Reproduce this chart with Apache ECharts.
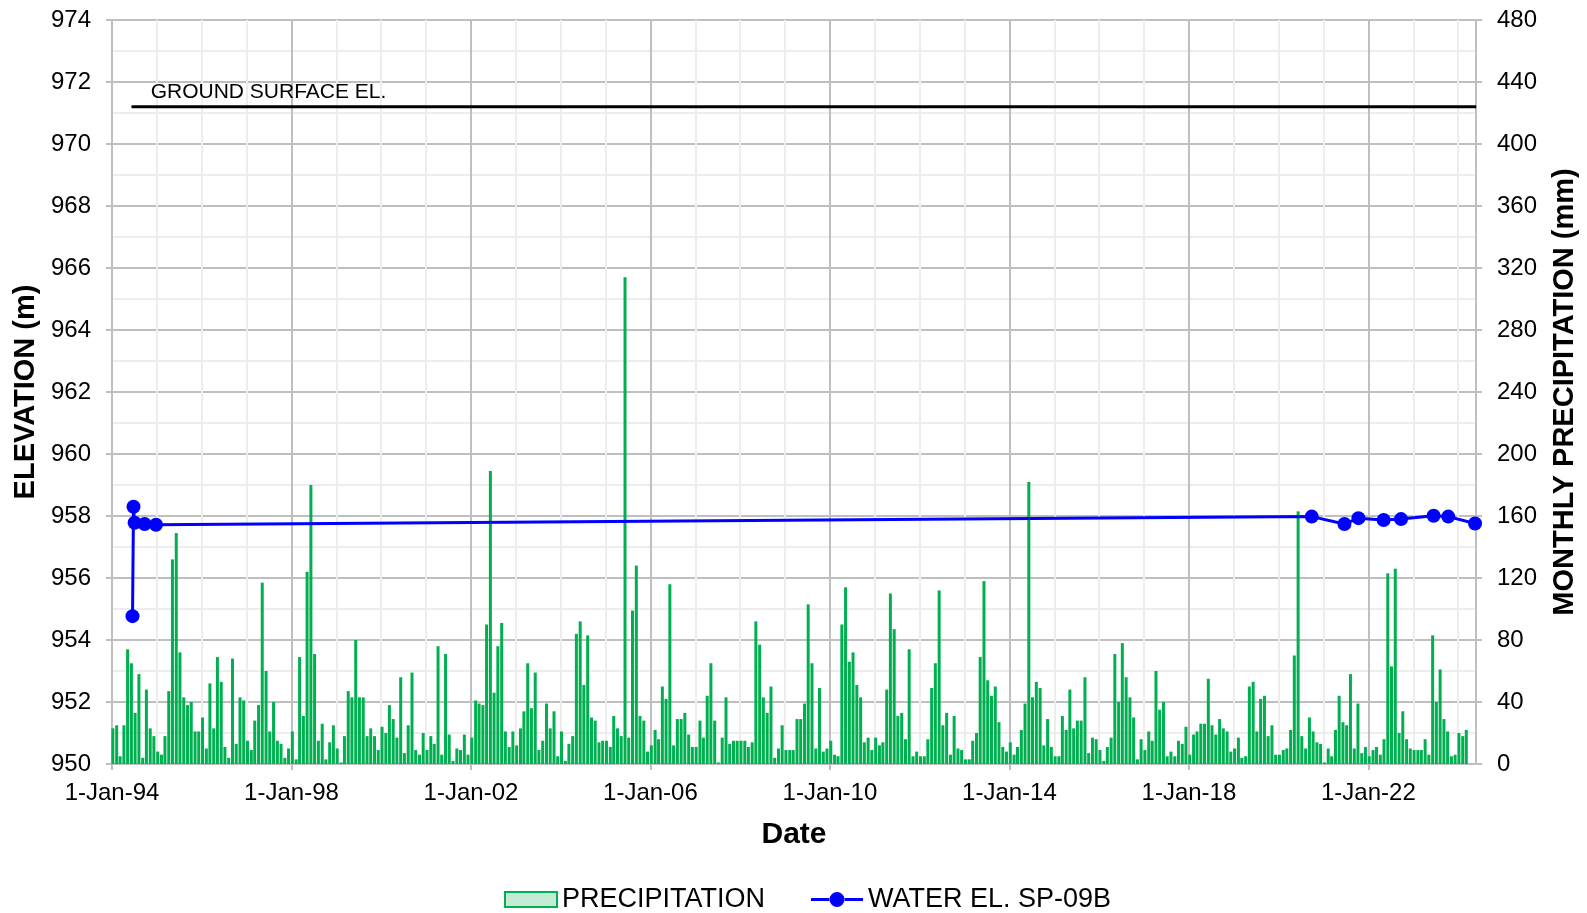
<!DOCTYPE html>
<html><head><meta charset="utf-8">
<script src="https://cdn.jsdelivr.net/npm/echarts@6/dist/echarts.min.js"></script>
<style>html,body{margin:0;padding:0;background:#fff}#c{width:1587px;height:913px}</style>
</head><body><div id="c"></div>
<script>
// Monthly precipitation (mm), Jan..Dec of each year
const p1994 = [23,25,5,25,74,65,33,58,4,48,23,18];
const p1995 = [8,6,18,47,132,149,72,43,38,40,21,21];
const p1996 = [30,10,52,23,69,53,11,4,68,13,43,41];
const p1997 = [15,9,28,38,117,60,21,40,15,13,4,10];
const p1998 = [21,3,69,31,124,180,71,15,26,3,14,25];
const p1999 = [10,1,18,47,43,80,43,43,18,23,18,9];
const p2000 = [24,20,38,29,17,56,7,25,59,9,6,20];
const p2001 = [9,18,13,76,6,71,19,2,10,9,19,6];
const p2002 = [17,41,39,38,90,189,46,76,91,21,11,21];
const p2003 = [12,23,34,65,36,59,9,15,39,23,34,5];
const p2004 = [21,2,13,18,84,92,51,83,30,28,14,15];
const p2005 = [15,11,31,23,18,314,17,99,128,31,28,8];
const p2006 = [12,22,16,50,42,116,12,29,29,33,19,11];
const p2007 = [11,28,17,44,65,28,1,17,43,13,15,15];
const p2008 = [15,15,11,14,92,77,43,33,50,4,10,25];
const p2009 = [9,9,9,29,29,39,103,65,10,49,8,10];
const p2010 = [15,6,5,90,114,66,72,51,43,14,17,9];
const p2011 = [17,12,14,48,110,87,31,33,16,74,5,8];
const p2012 = [5,5,16,49,65,112,25,33,6,31,10,9];
const p2013 = [3,3,15,20,69,118,54,44,50,27,11,8];
const p2014 = [14,6,11,22,39,182,43,53,49,12,29,11];
const p2015 = [5,5,31,22,48,23,28,28,56,7,17,16];
const p2016 = [9,2,11,17,71,40,78,56,43,30,3,16];
const p2017 = [9,21,15,60,35,40,5,8,5,15,13,24];
const p2018 = [6,19,21,26,26,55,25,19,29,23,21,8];
const p2019 = [10,17,4,5,50,53,21,42,44,18,25,6];
const p2020 = [6,9,10,22,70,163,18,10,30,21,14,13];
const p2021 = [1,10,5,22,44,27,25,58,10,39,7,11];
const p2022 = [5,9,11,6,16,123,63,126,20,34,16,10];
const p2023 = [9,9,9,16,6,83,40,61,29,21,5,6];
const p2024 = [20,18,22];
const precipYears = [1994,1995,1996,1997,1998,1999,2000,2001,2002,2003,2004,2005,2006,2007,2008,2009,2010,2011,2012,2013,2014,2015,2016,2017,2018,2019,2020,2021,2022,2023,2024];
const precipLists = [p1994,p1995,p1996,p1997,p1998,p1999,p2000,p2001,p2002,p2003,p2004,p2005,p2006,p2007,p2008,p2009,p2010,p2011,p2012,p2013,p2014,p2015,p2016,p2017,p2018,p2019,p2020,p2021,p2022,p2023,p2024];

// Water elevation readings, SP-09B
const waterDates = ['1994-06-17','1994-06-25','1994-07-04','1994-09-23','1994-12-25','2020-09-27','2021-06-20','2021-10-12','2022-05-05','2022-09-24','2023-06-16','2023-10-13','2024-05-18'];
const waterLevels = [954.77,958.30,957.78,957.74,957.72,957.98,957.74,957.93,957.87,957.90,958.01,957.98,957.76];

// Ground surface elevation
const groundDates = ['1994-06-10','2024-05-26'];
const groundLevel = 971.2;

// Axes
const xStart = '1994-01-01', xEnd = '2024-05-26';
const xTickDays = 1461; // 4 years
const elevMin = 950, elevMax = 974, elevStep = 2;
const precMin = 0, precMax = 480, precStep = 40;

const DAY = 86400000;
const T0 = Date.UTC(1994,0,1);
function dayNum(s){ const a = s.split('-').map(Number); return Math.round((Date.UTC(a[0],a[1]-1,a[2]) - T0)/DAY); }

const precipData = [];
precipYears.forEach((y, i) => {
  precipLists[i].forEach((v, m) => {
    precipData.push([Math.round((Date.UTC(y, m, 8) - T0)/DAY), v]);
  });
});
const waterData = waterDates.map((d, i) => [dayNum(d), waterLevels[i]]);
const groundData = groundDates.map(d => [dayNum(d), groundLevel]);

const FONT = "'Liberation Sans', Arial, sans-serif";
const LINE_ICON = 'path://M0,6L19,6L19,9L0,9Z M33,6L52,6L52,9L33,9Z M33.5,7.5A7.5,7.5,0,1,0,18.5,7.5A7.5,7.5,0,1,0,33.5,7.5Z';
const chart = echarts.init(document.getElementById('c'), null, {renderer:'canvas'});
chart.setOption({
  animation: false,
  backgroundColor: '#fff',
  textStyle: { fontFamily: FONT, color: '#000' },
  grid: { left: 112, right: 110, top: 20, bottom: 149, containLabel: false },
  legend: {
    left: 504, top: 886, padding: 0, itemWidth: 52, itemHeight: 15, itemGap: 46,
    textStyle: { fontFamily: FONT, fontSize: 27, color: '#000' },
    data: [
      { name: 'PRECIPITATION', icon: 'rect', itemStyle: { color: '#C3EBD3', borderColor: '#00B050', borderWidth: 2 } },
      { name: 'WATER EL. SP-09B', icon: LINE_ICON, itemStyle: { color: '#0000FF' } }
    ]
  },
  xAxis: {
    type: 'value', min: dayNum(xStart), max: dayNum(xEnd), interval: xTickDays,
    name: 'Date', nameLocation: 'middle', nameGap: 56,
    nameTextStyle: { fontFamily: FONT, fontSize: 30, fontWeight: 'bold', color: '#000' },
    axisLine: { show: true, lineStyle: { color: '#BFBFBF', width: 2 } },
    axisTick: { show: true, length: 6, lineStyle: { color: '#BFBFBF', width: 2 } },
    minorTick: { show: false, splitNumber: 4 },
    axisLabel: {
      fontFamily: FONT, fontSize: 24, color: '#000', margin: 17, showMaxLabel: false,
      formatter: v => {
        if (v % xTickDays !== 0) return '';
        const d = new Date(T0 + v*DAY);
        return '1-Jan-' + String(d.getUTCFullYear()).slice(2);
      }
    },
    splitLine: { show: true, lineStyle: { color: '#BFBFBF', width: 2 } },
    minorSplitLine: { show: true, lineStyle: { color: '#EDEDED', width: 2 } }
  },
  yAxis: [
    {
      type: 'value', min: elevMin, max: elevMax, interval: elevStep, position: 'left',
      name: 'ELEVATION (m)', nameLocation: 'middle', nameGap: 69, nameRotate: 90,
      nameTextStyle: { fontFamily: FONT, fontSize: 29, fontWeight: 'bold', color: '#000' },
      axisLine: { show: true, lineStyle: { color: '#BFBFBF', width: 2 } },
      axisTick: { show: true, length: 6, lineStyle: { color: '#BFBFBF', width: 2 } },
      minorTick: { show: false, splitNumber: 2 },
      axisLabel: { fontFamily: FONT, fontSize: 24, color: '#000', margin: 21 },
      splitLine: { show: true, lineStyle: { color: '#BFBFBF', width: 2 } },
      minorSplitLine: { show: true, lineStyle: { color: '#EDEDED', width: 2 } }
    },
    {
      type: 'value', min: precMin, max: precMax, interval: precStep, position: 'right',
      name: 'MONTHLY PRECIPITATION (mm)', nameLocation: 'middle', nameGap: 74, nameRotate: 90,
      nameTextStyle: { fontFamily: FONT, fontSize: 29, fontWeight: 'bold', color: '#000' },
      axisLine: { show: true, lineStyle: { color: '#BFBFBF', width: 2 } },
      axisTick: { show: true, length: 6, lineStyle: { color: '#BFBFBF', width: 2 } },
      axisLabel: { fontFamily: FONT, fontSize: 24, color: '#000', margin: 21 },
      splitLine: { show: false }
    }
  ],
  series: [
    {
      name: 'PRECIPITATION', type: 'bar', yAxisIndex: 1, data: precipData,
      barWidth: 3, itemStyle: { color: '#00B050' }, z: 2
    },
    {
      name: 'WATER EL. SP-09B', type: 'line', yAxisIndex: 0, data: waterData,
      symbol: 'circle', symbolSize: 14, showAllSymbol: true,
      lineStyle: { color: '#0000FF', width: 3 }, itemStyle: { color: '#0000FF' }, z: 4
    },
    {
      name: 'GROUND', type: 'line', yAxisIndex: 0, symbol: 'circle', symbolSize: 1, showSymbol: true, z: 3,
      lineStyle: { color: '#000', width: 3 }, itemStyle: { color: '#000' },
      label: { show: false },
      data: groundData.map((p, i) => i === 0 ? {
        value: p,
        label: { show: true, position: 'top', align: 'left', offset: [19, 0], distance: 4,
                 formatter: 'GROUND SURFACE EL.', fontFamily: FONT, fontSize: 21, color: '#000' }
      } : { value: p })
    }
  ]
});
</script></body></html>
